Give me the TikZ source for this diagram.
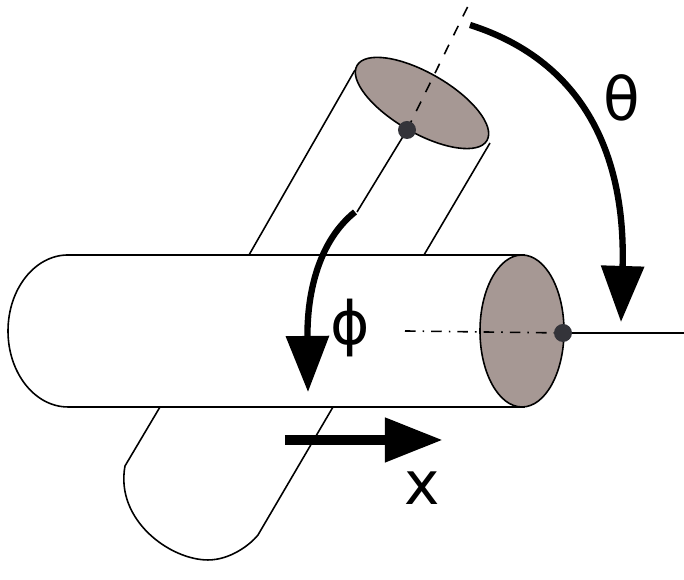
\documentclass[tikz,border=0pt]{standalone}
\usepackage{fontspec}
\setmainfont{DejaVu Sans}
\usetikzlibrary{arrows.meta}
\definecolor{capfill}{HTML}{A69894}
\definecolor{dotgray}{HTML}{34343A}
\tikzset{
  thin line/.style={line width=0.45pt},
  turn arrow/.style={line width=1.8pt, -{Triangle[length=0.56cm, width=0.42cm]}},
  label text/.style={font=\fontsize{17}{17}\selectfont},
}
\begin{document}
\begin{tikzpicture}[x=0.01cm, y=0.01cm]
      \useasboundingbox (0,0) rectangle (684,580);

      % Lower part of the tilted cylinder
      \draw[thin line] (160,173) -- (125,114)
        .. controls (115,60) and (170,20) .. (208,20)
        .. controls (230,20) and (250,35) .. (258,45) -- (333,173);

      % Horizontal cylinder
      \draw[thin line] (68,325) -- (525,325);
      \draw[thin line] (68,173) -- (525,173);
      \draw[thin line] (68,325) arc[start angle=90, end angle=270, x radius=60, y radius=76];
      \fill[capfill, draw=black, thin line] (522,249) ellipse[x radius=42, y radius=76];
      \coordinate (hc) at (405,249);
      \coordinate (hd) at (563,247);
      \coordinate (hr) at (684,247);
      \draw[thin line, dash dot] (hc) -- (hd);
      \draw[thin line] (hd) -- (hr);
      \fill[dotgray] (hd) circle (9);

      % Tilted cylinder
      \draw[thin line] (355,510) -- (249,325);
      \draw[thin line] (490,437) -- (424,325);
      \fill[capfill, draw=black, thin line] (422,477) ellipse[x radius=75, y radius=30, rotate=-30];
      \coordinate (td) at (407,450);
      \coordinate (tb) at (357,368);
      \coordinate (tt) at (471,580);
      \draw[thin line] (td) -- (tb);
      \draw[thin line, dashed] (td) -- (tt);
      \fill[dotgray] (td) circle (9);

      % Angles and direction
      \coordinate (th0) at (470,555);
      \coordinate (th1) at (621,258);
      \draw[turn arrow] (th0) .. controls (580,520) and (626,430) .. (th1);
      \coordinate (ph0) at (355,368);
      \coordinate (ph1) at (308,188);
      \draw[turn arrow] (ph0) .. controls (320,340) and (307,290) .. (ph1);
      \coordinate (x0) at (285,140);
      \coordinate (x1) at (443,140);
      \draw[line width=3pt, -{Triangle[length=0.58cm, width=0.42cm]}] (x0) -- (x1);

      \node[label text] (theta) at (622,482) {θ};
      \node[label text] (phi) at (350,252) {ϕ};
      \node[label text] (xlab) at (422,92) {x};
\end{tikzpicture}
\end{document}
